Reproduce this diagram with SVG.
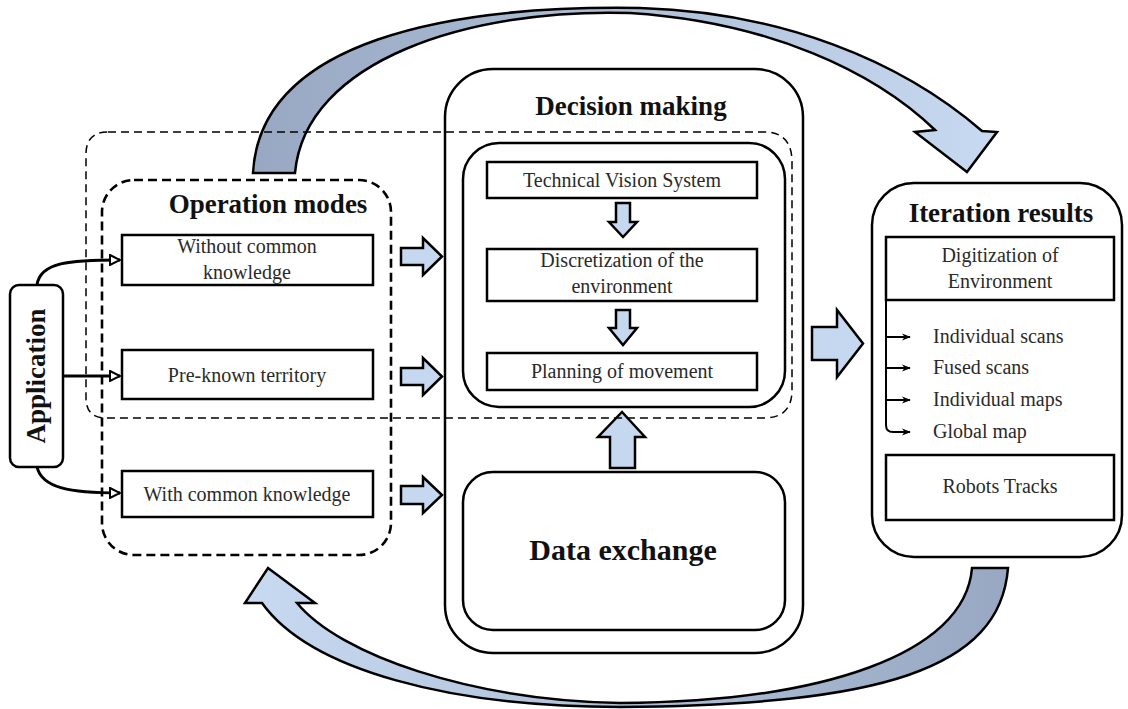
<svg xmlns="http://www.w3.org/2000/svg" width="1128" height="709" viewBox="0 0 1128 709">
<defs>
<style>
.box{fill:#fff;stroke:#000;stroke-width:2.5}
.rbox{fill:none;stroke:#000;stroke-width:2.5}
.t{font-family:"Liberation Serif","Times New Roman",serif;font-size:20px;fill:#2a2a2a;text-anchor:middle}
.tl{font-family:"Liberation Serif","Times New Roman",serif;font-size:20px;fill:#2a2a2a}
.h{font-family:"Liberation Serif","Times New Roman",serif;font-size:27px;font-weight:bold;fill:#111;text-anchor:middle}
.blk{fill:#c6d8ef;stroke:#000;stroke-width:2.5;stroke-linejoin:miter}
.con{fill:none;stroke:#000;stroke-width:3}
.lst{fill:none;stroke:#000;stroke-width:2}
</style>
<linearGradient id="gTop" gradientUnits="userSpaceOnUse" x1="253" y1="0" x2="1000" y2="0">
<stop offset="0" stop-color="#98a8c2"/><stop offset="0.5" stop-color="#aebfd8"/><stop offset="1" stop-color="#c8daf1"/>
</linearGradient>
<linearGradient id="gBot" gradientUnits="userSpaceOnUse" x1="1008" y1="0" x2="245" y2="0">
<stop offset="0" stop-color="#98a8c2"/><stop offset="0.5" stop-color="#aebfd8"/><stop offset="1" stop-color="#c8daf1"/>
</linearGradient>
<marker id="open" viewBox="0 0 12 12" refX="11" refY="6" markerWidth="12" markerHeight="12" markerUnits="userSpaceOnUse" orient="auto">
<path d="M1,1 L11,6 L1,11 Z" fill="#fff" stroke="#000" stroke-width="2"/>
</marker>
<marker id="small" viewBox="0 0 10 10" refX="9" refY="5" markerWidth="9" markerHeight="9" markerUnits="userSpaceOnUse" orient="auto">
<path d="M0,1 L10,5 L0,9 L3,5 Z" fill="#000"/>
</marker>
</defs>
<rect width="1128" height="709" fill="#fff"/>

<g id="connectors">
<!-- big curved iteration arrows -->
<path id="loop-top" d="M253,173 C260,40 450,5 640,8 C780,12 900,60 982,131 L997,132 L967,172 L915,132 L935,130 C875,72 770,22 630,13 C470,8 305,60 295,173 Z" fill="url(#gTop)" stroke="#000" stroke-width="2.5" stroke-linejoin="miter"/>
<path id="loop-bottom" d="M1008,568 C1000,670 880,705 620,707 C450,707 310,670 262,603 L245,603 L268,568 L315,603 L297,603 C340,655 470,700 620,703 C820,702 965,655 972,568 Z" fill="url(#gBot)" stroke="#000" stroke-width="2.5" stroke-linejoin="miter"/>
<!-- application links -->
<path class="con" d="M37,285 C40,262 70,260 120,260" marker-end="url(#open)"/>
<path class="con" d="M63,376 L120,376" marker-end="url(#open)"/>
<path class="con" d="M37,467 C42,488 70,493 120,493" marker-end="url(#open)"/>
<!-- block arrows modes -> decision -->
<path class="blk" d="M401,248 L423,248 L423,238 L442,256.5 L423,275 L423,265 L401,265 Z"/>
<path class="blk" d="M401,368 L423,368 L423,358 L442,376.5 L423,395 L423,385 L401,385 Z"/>
<path class="blk" d="M401,486 L423,486 L423,477 L442,495 L423,513 L423,504 L401,504 Z"/>
<!-- inner flow arrows -->
<path class="blk" d="M616,203 L630,203 L630,222 L637,222 L623,237 L609,222 L616,222 Z"/>
<path class="blk" d="M616,310 L630,310 L630,328 L637,328 L623,345 L609,328 L616,328 Z"/>
<!-- data exchange up arrow -->
<path class="blk" d="M610,468 L635,468 L635,437 L645,437 L622,412 L598,437 L610,437 Z"/>
<!-- decision -> results -->
<path class="blk" d="M812,327 L837,327 L837,310 L863,343.5 L837,377 L837,360 L812,360 Z"/>
</g>

<g id="application">
<rect class="box" x="10" y="285" width="53" height="182" rx="9"/>
<text class="h" transform="translate(45,376) rotate(-90)">Application</text>
</g>

<g id="operation-modes">
<rect x="102" y="180" width="289" height="375" rx="32" fill="none" stroke="#000" stroke-width="2.6" stroke-dasharray="9 5"/>
<text class="h" x="268" y="213">Operation modes</text>
<g id="mode-without">
<rect class="box" x="122" y="235" width="251" height="50"/>
<text class="t" x="247" y="253">Without common</text>
<text class="t" x="247" y="279">knowledge</text>
</g>
<g id="mode-preknown">
<rect class="box" x="122" y="350" width="251" height="49"/>
<text class="t" x="247" y="382">Pre-known territory</text>
</g>
<g id="mode-with">
<rect class="box" x="122" y="471" width="251" height="46"/>
<text class="t" x="247" y="501">With common knowledge</text>
</g>
</g>

<g id="decision-making">
<rect class="rbox" x="445" y="69" width="358" height="584" rx="48"/>
<text class="h" x="631" y="115">Decision making</text>
<rect class="rbox" x="463" y="143" width="322" height="264" rx="36"/>
<g id="tvs">
<rect class="box" x="487" y="162" width="270" height="36"/>
<text class="t" x="622" y="187">Technical Vision System</text>
</g>
<g id="discretization">
<rect class="box" x="487" y="249" width="270" height="52"/>
<text class="t" x="622" y="267">Discretization of the</text>
<text class="t" x="622" y="293">environment</text>
</g>
<g id="planning">
<rect class="box" x="487" y="353" width="270" height="37"/>
<text class="t" x="622" y="378">Planning of movement</text>
</g>
<g id="data-exchange">
<rect class="rbox" x="463" y="472" width="322" height="158" rx="30"/>
<text class="h" x="623" y="560" style="font-size:30px">Data exchange</text>
</g>
</g>

<g id="scope">
<path d="M108,132 L764,132 Q792,132 792,162 L792,390 Q792,418 764,418 L106,418 Q86,418 86,398 L86,154 Q86,132 108,132 Z" fill="none" stroke="#000" stroke-width="1.5" stroke-dasharray="8 5"/>
</g>

<g id="iteration-results">
<rect class="rbox" x="872" y="183" width="250" height="374" rx="42"/>
<text class="h" x="1001" y="222">Iteration results</text>
<g id="digitization">
<rect class="box" x="886" y="237" width="228" height="63"/>
<text class="t" x="1000" y="262">Digitization of</text>
<text class="t" x="1000" y="288">Environment</text>
</g>
<g id="result-list">
<path class="lst" d="M886,300 L886,425 Q886,432 893,432 L910,432" marker-end="url(#small)"/>
<path class="lst" d="M886,337 L910,337" marker-end="url(#small)"/>
<path class="lst" d="M886,368 L910,368" marker-end="url(#small)"/>
<path class="lst" d="M886,400 L910,400" marker-end="url(#small)"/>
<text class="tl" x="933" y="343">Individual scans</text>
<text class="tl" x="933" y="374">Fused scans</text>
<text class="tl" x="933" y="406">Individual maps</text>
<text class="tl" x="933" y="438">Global map</text>
</g>
<g id="robots-tracks">
<rect class="box" x="886" y="455" width="228" height="65"/>
<text class="t" x="1000" y="493">Robots Tracks</text>
</g>
</g>
</svg>
